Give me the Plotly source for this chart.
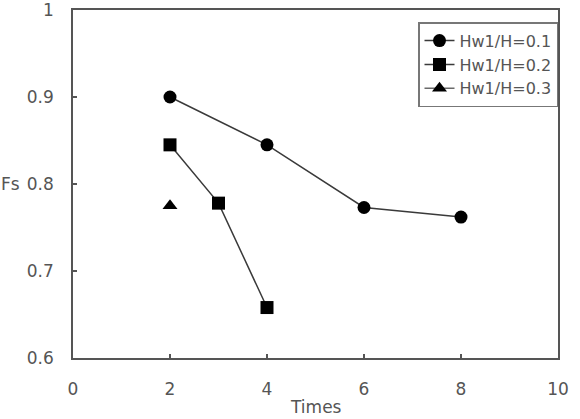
import plotly.graph_objects as go

times_01 = [2, 4, 6, 8]
fs_01 = [0.900, 0.845, 0.773, 0.762]
times_02 = [2, 3, 4]
fs_02 = [0.845, 0.778, 0.658]
times_03 = [2]
fs_03 = [0.775]
names = ["Hw1/H=0.1", "Hw1/H=0.2", "Hw1/H=0.3"]

FONT = "DejaVu Sans, Arial"
TXT = "#555"

fig = go.Figure()
fig.add_trace(go.Scatter(x=times_01, y=fs_01, mode="lines+markers", name=names[0],
                         line=dict(color="#3a3a3a", width=1.5),
                         marker=dict(symbol="circle", size=13, color="black")))
fig.add_trace(go.Scatter(x=times_02, y=fs_02, mode="lines+markers", name=names[1],
                         line=dict(color="#3a3a3a", width=1.5),
                         marker=dict(symbol="square", size=13, color="black")))
fig.add_trace(go.Scatter(x=times_03, y=fs_03, mode="lines+markers", name=names[2],
                         line=dict(color="#6a6a6a", width=1.5),
                         marker=dict(symbol="triangle-up", size=13, color="black")))

axis_common = dict(showgrid=False, zeroline=False, showline=True, linecolor="#555",
                   linewidth=1.5, mirror=True, ticks="inside", ticklen=4,
                   tickcolor="#555", tickwidth=1.5, ticklabeloverflow="allow",
                   automargin=False,
                   tickfont=dict(family=FONT, size=17, color=TXT))
fig.update_xaxes(range=[0, 10], tickvals=[0, 2, 4, 6, 8, 10], ticklabelstandoff=15,
                 **axis_common)
fig.update_yaxes(range=[0.6, 1.0], tickvals=[0.6, 0.7, 0.8, 0.9, 1.0],
                 ticktext=["0.6", "0.7", "0.8", "0.9", "1"], ticklabelstandoff=14,
                 **axis_common)

fig.add_annotation(text="Fs", xref="paper", yref="y", x=0, y=0.8, xshift=-51,
                   xanchor="right", yanchor="middle", showarrow=False,
                   font=dict(family=FONT, size=17, color=TXT))
fig.add_annotation(text="Times", xref="x", yref="paper", x=5, y=0, yshift=-49,
                   xanchor="center", yanchor="middle", showarrow=False,
                   font=dict(family=FONT, size=17, color=TXT))

fig.update_layout(
    width=580, height=419,
    margin=dict(l=73, r=22, t=10, b=61),
    plot_bgcolor="white", paper_bgcolor="white",
    legend=dict(x=1, y=0.965, xanchor="right", yanchor="top",
                bordercolor="#777", borderwidth=1.5, bgcolor="white",
                font=dict(family=FONT, size=16, color=TXT),
                itemwidth=30),
)

fig.write_html("out.html")
